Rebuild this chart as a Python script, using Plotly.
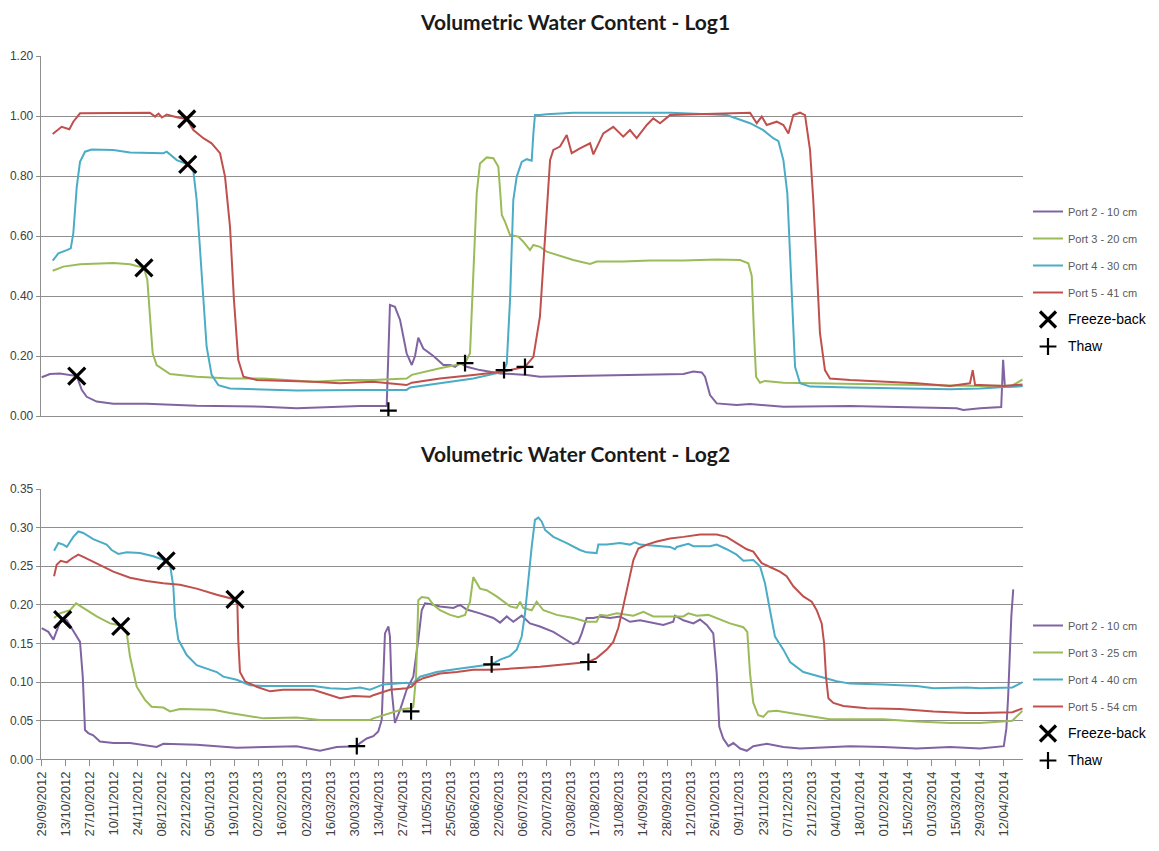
import pandas as pd
import plotly.graph_objects as go

# Days since 29/09/2012 and volumetric water content (m3/m3)
START = pd.Timestamp("2012-09-29")

LOG1_NAMES = ["Port 2 - 10 cm", "Port 3 - 20 cm", "Port 4 - 30 cm", "Port 5 - 41 cm"]
LOG2_NAMES = ["Port 2 - 10 cm", "Port 3 - 25 cm", "Port 4 - 40 cm", "Port 5 - 54 cm"]
COLORS = ["#8064A2", "#9BBB59", "#4BACC6", "#C0504D"]

LOG1_PORT2 = [(0, 0.129), (4.8, 0.140), (10.6, 0.142), (18.4, 0.133), (20.4, 0.133), (23.3, 0.087),
              (26.2, 0.064), (32, 0.048), (41.7, 0.041), (61.1, 0.041), (90.2, 0.034), (129, 0.031),
              (148.4, 0.026), (185.3, 0.033), (200.8, 0.033), (202.7, 0.370), (205.6, 0.364),
              (208.6, 0.320), (212.4, 0.209), (215.4, 0.170), (217.3, 0.200), (219.2, 0.261),
              (222.1, 0.225), (228, 0.200), (233.8, 0.170), (237.7, 0.170), (240.6, 0.164),
              (243.5, 0.176), (247.4, 0.164), (255.1, 0.153), (266.8, 0.142), (282.3, 0.137),
              (290, 0.131), (309.4, 0.133), (354.1, 0.137), (373.5, 0.140), (379.3, 0.148),
              (384.2, 0.145), (386.1, 0.131), (389, 0.070), (392.9, 0.042), (404.5, 0.037),
              (412.3, 0.040), (431.7, 0.031), (470.5, 0.033), (509.3, 0.029), (532.6, 0.026),
              (536.4, 0.020), (546.2, 0.026), (558.5, 0.030), (559.6, 0.187), (560.6, 0.100),
              (563, 0.098), (571, 0.100)]
LOG1_PORT3 = [(6.4, 0.484), (12.6, 0.498), (22.3, 0.506), (41.7, 0.510), (51.4, 0.506), (59.5, 0.494),
              (61.5, 0.453), (63, 0.331), (64.6, 0.209), (66.9, 0.170), (74.7, 0.140), (90.2, 0.131),
              (109.6, 0.125), (129, 0.125), (158.1, 0.114), (177.5, 0.120), (193, 0.120),
              (212.4, 0.125), (215.4, 0.137), (231.8, 0.159), (246.4, 0.176), (249.3, 0.209),
              (251.2, 0.498), (253.2, 0.742), (255.1, 0.842), (259, 0.862), (262.9, 0.859),
              (265.8, 0.831), (266.8, 0.753), (267.8, 0.670), (269.7, 0.647), (272.6, 0.603),
              (277.4, 0.598), (280.3, 0.581), (284.2, 0.553), (286.2, 0.570), (290, 0.564),
              (293.9, 0.548), (309.4, 0.520), (319.2, 0.507), (323, 0.515), (338.5, 0.515),
              (354.1, 0.518), (373.5, 0.518), (392.9, 0.522), (406.5, 0.520), (411.3, 0.509),
              (413.3, 0.467), (414.6, 0.276), (415.8, 0.131), (418.1, 0.111), (421, 0.117),
              (431.7, 0.111), (470.5, 0.107), (509.3, 0.103), (546.2, 0.100), (565, 0.102),
              (571, 0.122)]
LOG1_PORT4 = [(6.4, 0.518), (9.7, 0.542), (14.6, 0.553), (16.9, 0.559), (18.4, 0.609), (20.4, 0.764),
              (22.3, 0.847), (25.2, 0.881), (29.1, 0.888), (41.7, 0.887), (51.4, 0.878), (70.8, 0.876),
              (72.8, 0.881), (78.6, 0.853), (85, 0.839), (88.3, 0.815), (90.2, 0.720), (92.1, 0.553),
              (94.1, 0.364), (96, 0.231), (98.9, 0.137), (102.8, 0.103), (109.6, 0.092), (129, 0.089),
              (148.4, 0.085), (185.3, 0.087), (212.4, 0.087), (214.4, 0.095), (231.8, 0.109),
              (251.2, 0.125), (268.7, 0.148), (270.7, 0.176), (272.6, 0.387), (274.5, 0.720),
              (276.5, 0.798), (279.4, 0.847), (282.3, 0.856), (285.2, 0.851), (286.2, 0.942),
              (287.1, 1.003), (290, 1.003), (293.9, 1.006), (309.4, 1.011), (365.7, 1.011),
              (398.7, 1.003), (404.5, 0.992), (412.3, 0.976), (420, 0.953), (425.8, 0.926),
              (428.8, 0.916), (431.7, 0.853), (434, 0.742), (435.6, 0.553), (437.1, 0.331),
              (438.5, 0.164), (441.4, 0.109), (447.2, 0.098), (470.5, 0.095), (509.3, 0.092),
              (528.7, 0.089), (546.2, 0.092), (571, 0.100)]
LOG1_PORT5 = [(6.4, 0.940), (11.6, 0.964), (16.1, 0.956), (18.4, 0.981), (22.3, 1.009), (63, 1.011),
              (66, 0.998), (68, 1.008), (70, 0.995), (72.8, 1.005), (78.6, 0.996), (84.4, 0.990),
              (88.3, 0.953), (94.1, 0.926), (98.9, 0.909), (103.8, 0.876), (106.7, 0.798),
              (109.6, 0.631), (111.9, 0.387), (114.4, 0.187), (117.4, 0.131), (125.1, 0.120),
              (158.1, 0.114), (173.6, 0.109), (193, 0.114), (212.4, 0.103), (215.4, 0.111),
              (231.8, 0.125), (251.2, 0.137), (268.7, 0.148), (281.3, 0.164), (286.2, 0.197),
              (290, 0.331), (293, 0.609), (295.9, 0.853), (297.8, 0.887), (301.7, 0.898),
              (305.6, 0.937), (308.5, 0.876), (313.3, 0.892), (319.2, 0.909), (321.1, 0.872),
              (326.9, 0.942), (332.7, 0.964), (338.5, 0.931), (342.4, 0.953), (346.3, 0.926),
              (352.2, 0.970), (356, 0.992), (359.9, 0.976), (365.7, 1.003), (412.3, 1.011),
              (416.2, 0.976), (419.1, 0.998), (422, 0.970), (427.8, 0.981), (431.7, 0.970),
              (434.6, 0.942), (437.5, 1.003), (441.4, 1.011), (444.3, 1.003), (447.2, 0.887),
              (449.1, 0.720), (451.1, 0.498), (453, 0.276), (455.9, 0.153), (458.8, 0.125),
              (470.5, 0.120), (489.9, 0.114), (509.3, 0.109), (528.7, 0.100), (540.3, 0.109),
              (541.9, 0.153), (543.3, 0.103), (546.2, 0.103), (560, 0.100), (571, 0.105)]
LOG1_FREEZE = [(20.4, 0.133), (59.5, 0.494), (85, 0.839), (84.4, 0.990)]
LOG1_THAW = [(201.8, 0.018), (246.4, 0.176), (269.1, 0.153), (281.3, 0.164)]

LOG2_PORT2 = [(0, 0.170), (3.9, 0.165), (6.8, 0.155), (8.7, 0.167), (11.6, 0.183), (14.6, 0.180),
              (18.4, 0.167), (22.3, 0.152), (23.9, 0.107), (25.2, 0.038), (27.1, 0.034), (30, 0.031),
              (33.9, 0.023), (41.7, 0.021), (51.4, 0.021), (66.9, 0.016), (70.8, 0.020), (90.2, 0.019),
              (113.5, 0.015), (129, 0.016), (148.4, 0.017), (162, 0.011), (171.7, 0.016),
              (183.4, 0.017), (185.3, 0.021), (189.2, 0.027), (193, 0.030), (195.9, 0.036),
              (197.9, 0.051), (199.8, 0.163), (201.8, 0.172), (202.7, 0.159), (203.7, 0.090),
              (205.6, 0.047), (208.6, 0.064), (212.4, 0.090), (216.3, 0.107), (219.2, 0.155),
              (221.2, 0.193), (223.1, 0.202), (226, 0.201), (231.8, 0.198), (239.6, 0.196),
              (243.5, 0.200), (247.4, 0.194), (255.1, 0.189), (262.9, 0.183), (266.8, 0.177),
              (270.7, 0.185), (274.5, 0.178), (279.4, 0.186), (284.2, 0.176), (290, 0.172),
              (297.8, 0.165), (305.6, 0.155), (309.4, 0.149), (312.3, 0.152), (314.3, 0.163),
              (317.2, 0.183), (321.1, 0.183), (325, 0.185), (330.8, 0.183), (336.6, 0.185),
              (342.4, 0.178), (348.3, 0.180), (358, 0.176), (361.8, 0.174), (367.6, 0.178),
              (368.6, 0.186), (373.5, 0.180), (379.3, 0.176), (383.2, 0.181), (387.1, 0.174),
              (390.9, 0.163), (392.9, 0.111), (394.4, 0.042), (396.7, 0.027), (399.7, 0.017),
              (402.6, 0.021), (406.5, 0.014), (410.4, 0.011), (414.2, 0.017), (422, 0.020),
              (431.7, 0.016), (441.4, 0.014), (460.8, 0.016), (470.5, 0.017), (489.9, 0.016),
              (509.3, 0.014), (528.7, 0.016), (546.2, 0.014), (560, 0.017), (561.5, 0.040),
              (562.5, 0.080), (564.4, 0.186), (565.5, 0.220)]
LOG2_PORT3 = [(7.2, 0.183), (10.6, 0.189), (16.5, 0.193), (20, 0.202), (24.2, 0.196), (32, 0.185),
              (39.8, 0.176), (44.6, 0.174), (46, 0.172), (49.5, 0.163), (51.4, 0.133), (55.3, 0.094),
              (60.1, 0.077), (64, 0.068), (70.8, 0.067), (74.7, 0.062), (80.5, 0.065), (99.9, 0.064),
              (109.6, 0.060), (129, 0.053), (148.4, 0.054), (162, 0.051), (185.3, 0.051),
              (191.1, 0.051), (193, 0.053), (198.8, 0.057), (210.5, 0.065), (215, 0.066),
              (216.3, 0.068), (217.9, 0.107), (219.2, 0.206), (221.2, 0.210), (225, 0.209),
              (228, 0.200), (231.8, 0.193), (237.7, 0.187), (242.5, 0.184), (246.4, 0.187),
              (249.3, 0.204), (251.2, 0.236), (255.1, 0.221), (259, 0.219), (264.8, 0.211),
              (272.6, 0.198), (276.5, 0.196), (278.4, 0.204), (280.3, 0.196), (285.2, 0.193),
              (288.1, 0.204), (292, 0.193), (299.8, 0.187), (309.4, 0.183), (317.2, 0.178),
              (323, 0.178), (325, 0.187), (328.9, 0.186), (334.7, 0.189), (344.4, 0.186),
              (350.2, 0.191), (356, 0.185), (365.7, 0.185), (373.5, 0.185), (376.4, 0.189),
              (381.3, 0.186), (388, 0.187), (392.9, 0.183), (400.6, 0.176), (408.4, 0.171),
              (410.7, 0.165), (412.3, 0.111), (414.2, 0.073), (417.1, 0.057), (420, 0.055),
              (422.9, 0.062), (427.8, 0.063), (435.6, 0.060), (447.2, 0.056), (458.8, 0.052),
              (470.5, 0.052), (489.9, 0.052), (509.3, 0.049), (528.7, 0.047), (546.2, 0.047),
              (565, 0.050), (571, 0.063)]
LOG2_PORT4 = [(7.2, 0.270), (9.7, 0.280), (12.6, 0.278), (14.6, 0.275), (18.4, 0.288), (21.3, 0.295),
              (24.2, 0.293), (30, 0.285), (37.8, 0.278), (40.7, 0.271), (44.6, 0.266), (49.5, 0.268),
              (57.2, 0.267), (65, 0.263), (72.4, 0.257), (74.7, 0.252), (76.6, 0.224), (77.6, 0.185),
              (79.5, 0.155), (84.4, 0.135), (90.2, 0.122), (98, 0.116), (101.9, 0.113),
              (105.7, 0.107), (113.5, 0.103), (121.2, 0.096), (129, 0.095), (158.1, 0.095),
              (167.8, 0.092), (177.5, 0.091), (185.3, 0.093), (191.1, 0.090), (198.8, 0.097),
              (212.4, 0.099), (215.4, 0.097), (220.2, 0.107), (229.9, 0.113), (241.6, 0.117),
              (251.2, 0.120), (261.9, 0.123), (266.8, 0.129), (272.6, 0.134), (276.5, 0.142),
              (279.4, 0.159), (281.3, 0.189), (283.2, 0.232), (285.2, 0.275), (287.1, 0.310),
              (289.1, 0.313), (291, 0.308), (293, 0.297), (297.8, 0.288), (305.6, 0.280),
              (313.3, 0.271), (317.2, 0.268), (323, 0.267), (324, 0.278), (328.9, 0.278),
              (336.6, 0.280), (342.4, 0.278), (345.3, 0.281), (348.3, 0.278), (358, 0.276),
              (365.7, 0.275), (368.6, 0.272), (369.6, 0.275), (376.4, 0.279), (379.3, 0.276),
              (389, 0.276), (392.9, 0.278), (398.7, 0.272), (404.5, 0.265), (408.4, 0.257),
              (414.2, 0.258), (418.1, 0.250), (421, 0.228), (423.9, 0.193), (426.8, 0.159),
              (431.7, 0.142), (435.6, 0.126), (443.3, 0.113), (451.1, 0.108), (456.9, 0.104),
              (462.7, 0.101), (470.5, 0.098), (489.9, 0.097), (509.3, 0.095), (519, 0.092),
              (538.4, 0.093), (546.2, 0.092), (565, 0.093), (571, 0.100)]
LOG2_PORT5 = [(7.2, 0.237), (8.7, 0.252), (11.1, 0.257), (14.6, 0.255), (17.5, 0.260), (21.3, 0.265),
              (24.2, 0.262), (32, 0.254), (41.7, 0.243), (51.4, 0.235), (61.1, 0.231), (70.8, 0.228),
              (80.5, 0.226), (90.2, 0.221), (101.9, 0.213), (112.5, 0.207), (113.9, 0.200),
              (114.4, 0.155), (115.4, 0.113), (118.3, 0.101), (125.1, 0.094), (132.9, 0.088),
              (140.6, 0.090), (158.1, 0.090), (167.8, 0.083), (173.6, 0.079), (181.4, 0.082),
              (191.1, 0.081), (193, 0.083), (202.7, 0.090), (212.4, 0.092), (215.4, 0.094),
              (218.3, 0.101), (222.1, 0.105), (231.8, 0.111), (241.6, 0.113), (251.2, 0.116),
              (261.9, 0.116), (270.7, 0.117), (290, 0.120), (309.4, 0.124), (318.2, 0.126),
              (323, 0.131), (328.9, 0.142), (332.7, 0.152), (335.6, 0.170), (338.5, 0.198),
              (341.4, 0.228), (344.4, 0.258), (347.3, 0.273), (352.2, 0.278), (358, 0.282),
              (365.7, 0.286), (373.5, 0.288), (383.2, 0.291), (392.9, 0.291), (398.7, 0.288),
              (404.5, 0.280), (410.4, 0.272), (414.2, 0.269), (419.1, 0.254), (423.9, 0.249),
              (429.7, 0.243), (433.6, 0.237), (437.5, 0.224), (443.3, 0.211), (448.2, 0.204),
              (451.1, 0.193), (454, 0.176), (455.4, 0.150), (456.5, 0.107), (457.9, 0.079),
              (460.8, 0.073), (466.6, 0.069), (480.2, 0.066), (499.6, 0.065), (519, 0.062),
              (538.4, 0.060), (546.2, 0.060), (565, 0.061), (571, 0.066)]
LOG2_FREEZE = [(12.2, 0.181), (46, 0.172), (72.4, 0.257), (112.5, 0.207)]
LOG2_THAW = [(183.4, 0.017), (215, 0.062), (261.9, 0.123), (318.2, 0.126)]

TITLES = ["Volumetric Water Content - Log1", "Volumetric Water Content - Log2"]


def split(pairs):
    days = [START + pd.Timedelta(days=d) for d, _ in pairs]
    vals = [v for _, v in pairs]
    return days, vals


fig = go.Figure()
GRID = "#8f8f8f"
TICKFONT = dict(family="Liberation Sans", size=12, color="#404040")

panels = [
    (LOG1_NAMES, [LOG1_PORT2, LOG1_PORT3, LOG1_PORT4, LOG1_PORT5], LOG1_FREEZE, LOG1_THAW, "x", "y", "legend"),
    (LOG2_NAMES, [LOG2_PORT2, LOG2_PORT3, LOG2_PORT4, LOG2_PORT5], LOG2_FREEZE, LOG2_THAW, "x2", "y2", "legend2"),
]
for p, (names, series, freeze, thaw, xa, ya, lg) in enumerate(panels):
    for i, (nm, s) in enumerate(zip(names, series)):
        d, v = split(s)
        fig.add_trace(go.Scatter(x=d, y=v, mode="lines", name=nm, xaxis=xa, yaxis=ya,
                                 line=dict(color=COLORS[i], width=2), legend=lg,
                                 legendgroup=f"{lg}-{i}"))
    d, v = split(freeze)
    fig.add_trace(go.Scatter(x=d, y=v, mode="markers", xaxis=xa, yaxis=ya, legend=lg,
                             name='<span style="font-size:14px;color:#000">Freeze-back</span>',
                             legendgroup=f"{lg}-f",
                             marker=dict(symbol="x-thin", size=17, color="black",
                                         line=dict(width=3.2, color="black"))))
    d, v = split(thaw)
    fig.add_trace(go.Scatter(x=d, y=v, mode="markers", xaxis=xa, yaxis=ya, legend=lg,
                             name='<span style="font-size:14px;color:#000">Thaw</span>',
                             legendgroup=f"{lg}-t",
                             marker=dict(symbol="cross-thin", size=12, color="black",
                                         line=dict(width=2.2, color="black"))))

W, H = 1159, 851
XDOM = [40.7 / W, 1022.7 / W]
XRANGE = [START - pd.Timedelta(hours=14), START + pd.Timedelta(days=571)]
common_x = dict(domain=XDOM, range=XRANGE, type="date", showgrid=False, zeroline=False,
                showline=True, linecolor=GRID, linewidth=1, automargin=False,
                tick0=START, dtick=14 * 86400000, tickformat="%d/%m/%Y")
common_y = dict(showgrid=True, gridcolor=GRID, gridwidth=1, zeroline=False, showline=True,
                linecolor=GRID, linewidth=1, ticks="outside", ticklen=4, tickcolor=GRID,
                tickformat=".2f", tickfont=TICKFONT, automargin=False)

legend_common = dict(xanchor="left", yanchor="top", bgcolor="rgba(0,0,0,0)", tracegroupgap=8,
                     font=dict(family="Liberation Sans", size=11, color="#595959"), itemwidth=30)

fig.update_layout(
    width=W, height=H, margin=dict(l=0, r=0, t=0, b=0, autoexpand=False),
    paper_bgcolor="white", plot_bgcolor="white",
    xaxis=dict(common_x, anchor="y", showticklabels=False, ticks=""),
    yaxis=dict(common_y, domain=[(H - 416) / H, (H - 56) / H], range=[0, 1.2], dtick=0.2, anchor="x"),
    xaxis2=dict(common_x, anchor="y2", ticks="outside", ticklen=6, tickcolor=GRID,
                tickangle=-90, tickfont=dict(family="Liberation Sans", size=13, color="#404040")),
    yaxis2=dict(common_y, domain=[(H - 759.3) / H, (H - 489) / H], range=[0, 0.35], dtick=0.05, anchor="x2"),
    legend=dict(legend_common, x=1028 / W, y=1 - 197 / H),
    legend2=dict(legend_common, x=1028 / W, y=1 - 611 / H),
    showlegend=True,
    annotations=[
        dict(text=f"<b>{TITLES[0]}</b>", x=575 / W, y=1 - 22 / H, xref="paper", yref="paper",
             showarrow=False, xanchor="center", yanchor="middle",
             font=dict(family="Lato", size=21, color="#1a1a1a")),
        dict(text=f"<b>{TITLES[1]}</b>", x=575 / W, y=1 - 453 / H, xref="paper", yref="paper",
             showarrow=False, xanchor="center", yanchor="middle",
             font=dict(family="Lato", size=21, color="#1a1a1a")),
    ],
)

fig.write_html("out.html", config={"displayModeBar": False},
               post_script="document.body.style.margin='0px';")
